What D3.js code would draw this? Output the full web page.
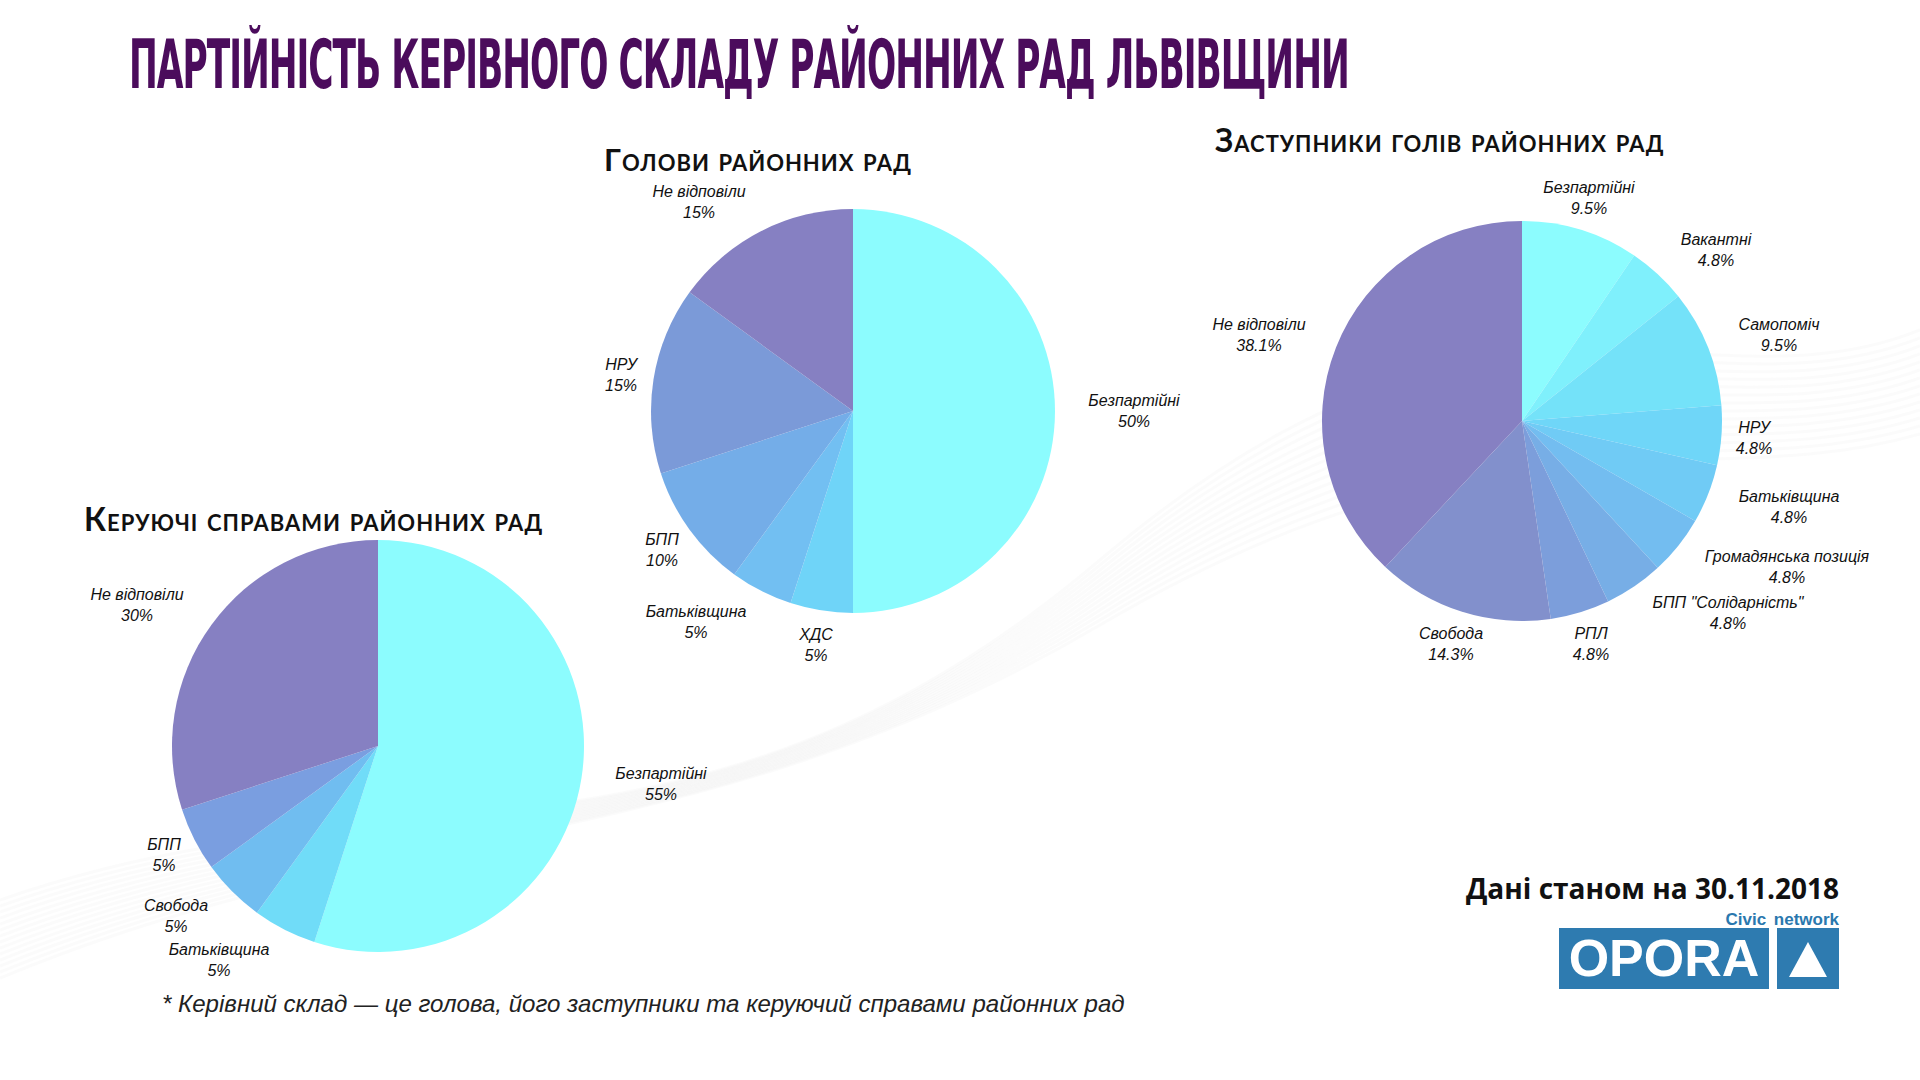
<!DOCTYPE html>
<html><head><meta charset="utf-8">
<script src="https://cdn.jsdelivr.net/npm/d3@7/dist/d3.min.js"></script>
<style>body{margin:0;background:#fff}svg{display:block}</style>
</head><body>
<svg id="c" width="1920" height="1080"></svg>
<script>
// ---- data ----
const headsLabels = ["Безпартійні","ХДС","Батьківщина","БПП","НРУ","Не відповіли"];
const headsValues = [50,5,5,10,15,15];
const headsColors = ["#8cfcfe","#6fd4f8","#72bff2","#74ade8","#7b9ad8","#8680c2"];

const deputiesLabels = ["Безпартійні","Вакантні","Самопоміч","НРУ","Батьківщина","Громадянська позиція","БПП \"Солідарність\"","РПЛ","Свобода","Не відповіли"];
const deputiesValues = [9.5,4.8,9.5,4.8,4.8,4.8,4.8,4.8,14.3,38.1];
const deputiesColors = ["#8cfcfe","#7ff0fc","#74e2f9","#6fd6f8","#70cbf5","#73bdf0","#77aee6","#7c9edb","#8290cc","#8680c2"];

const managersLabels = ["Безпартійні","Батьківщина","Свобода","БПП","Не відповіли"];
const managersValues = [55,5,5,5,30];
const managersColors = ["#8cfcfe","#70dcf8","#70bdf0","#7a9ee0","#8680c2"];

// ---- layout ----
const svg = d3.select("#c");
const bg = svg.append("g");
for (let i=0;i<14;i++){
  bg.append("path")
    .attr("d",`M0,${900+i*6} C400,${760+i*4} 700,${900-i*3} 1100,${560+i*5} S1700,${420+i*6} 1920,${330+i*8}`)
    .attr("fill","none").attr("stroke","#ececee").attr("stroke-opacity",0.22).attr("stroke-width",3);
}

function fitText(sel, w){
  const len = sel.node().getComputedTextLength();
  const fs = +sel.attr("font-size");
  sel.attr("font-size", fs*w/len);
}

const title = svg.append("text").attr("x",129).attr("y",88)
  .attr("font-family","'DejaVu Sans Condensed','DejaVu Sans',sans-serif")
  .attr("font-weight","bold").attr("font-size",50).attr("fill","#4b0c5c")
  .attr("letter-spacing",-1)
  .text("ПАРТІЙНІСТЬ КЕРІВНОГО СКЛАДУ РАЙОННИХ РАД ЛЬВІВЩИНИ");
fitText(title,1232);
{
  const fs = +title.attr("font-size");
  const k = 49/(0.73*fs);
  title.attr("transform",`translate(0,88) scale(1,${k}) translate(0,-88)`);
}

function subtitle(x,y,t,w){
  const s = svg.append("text").attr("x",x).attr("y",y)
    .attr("font-family","Lato,'Open Sans',sans-serif").attr("font-weight","bold")
    .attr("font-size",30).attr("fill","#111")
    .attr("letter-spacing",1)
    .style("font-variant","small-caps").text(t);
  fitText(s,w);
}
subtitle(604,171,"Голови районних рад",307);
subtitle(1215,152,"Заступники голів районних рад",452);
subtitle(84,531,"Керуючі справами районних рад",464);

function pie(cx,cy,r,labels,values,colors,labelPos){
  const g = svg.append("g").attr("transform",`translate(${cx},${cy})`);
  const arcs = d3.pie().sort(null)(values);
  const arc = d3.arc().innerRadius(0).outerRadius(r);
  g.selectAll("path").data(arcs).join("path")
    .attr("d",arc).attr("fill",(d,i)=>colors[i]);
  labels.forEach((l,i)=>{
    const [x,y]=labelPos[i];
    const t = svg.append("text").attr("text-anchor","middle")
      .attr("font-family","'Liberation Sans',Arial,sans-serif").attr("font-style","italic")
      .attr("font-size",16).attr("fill","#111");
    t.append("tspan").attr("x",x).attr("y",y+6).text(l);
    t.append("tspan").attr("x",x).attr("y",y+27).text(values[i]+"%");
  });
}
pie(853,411,202,headsLabels,headsValues,headsColors,
  [[1134,400],[816,634],[696,611],[662,539],[621,364],[699,191]]);
pie(1522,421,200,deputiesLabels,deputiesValues,deputiesColors,
  [[1589,187],[1716,239],[1779,324],[1754,427],[1789,496],[1787,556],[1728,602],[1591,633],[1451,633],[1259,324]]);
pie(378,746,206,managersLabels,managersValues,managersColors,
  [[661,773],[219,949],[176,905],[164,844],[137,594]]);

const foot = svg.append("text").attr("x",162).attr("y",1012)
  .attr("font-family","'Liberation Sans',Arial,sans-serif").attr("font-style","italic")
  .attr("font-size",24).attr("fill","#222")
  .text("* Керівний склад — це голова, його заступники та керуючий справами районних рад");
fitText(foot,963);

svg.append("text").attr("x",1839).attr("y",899).attr("text-anchor","end")
  .attr("font-family","'Open Sans',sans-serif").attr("font-weight","bold")
  .attr("font-size",28).attr("fill","#111").text("Дані станом на 30.11.2018");
svg.append("text").attr("x",1839).attr("y",925).attr("text-anchor","end")
  .attr("font-family","'Liberation Sans',Arial,sans-serif").attr("font-weight","bold")
  .attr("font-size",17).attr("fill","#2a78ae").attr("word-spacing",3).text("Civic network");
svg.append("rect").attr("x",1559).attr("y",928).attr("width",210).attr("height",61).attr("fill","#2e7bb0");
svg.append("rect").attr("x",1777).attr("y",928).attr("width",62).attr("height",61).attr("fill","#2e7bb0");
svg.append("text").attr("x",1664).attr("y",976).attr("text-anchor","middle")
  .attr("font-family","'Liberation Sans',Arial,sans-serif").attr("font-weight","bold")
  .attr("font-size",52).attr("fill","#fff").text("OPORA");
svg.append("path").attr("d","M1808,942 L1827,977 L1789,977 Z").attr("fill","#fff");
</script>
</body></html>
